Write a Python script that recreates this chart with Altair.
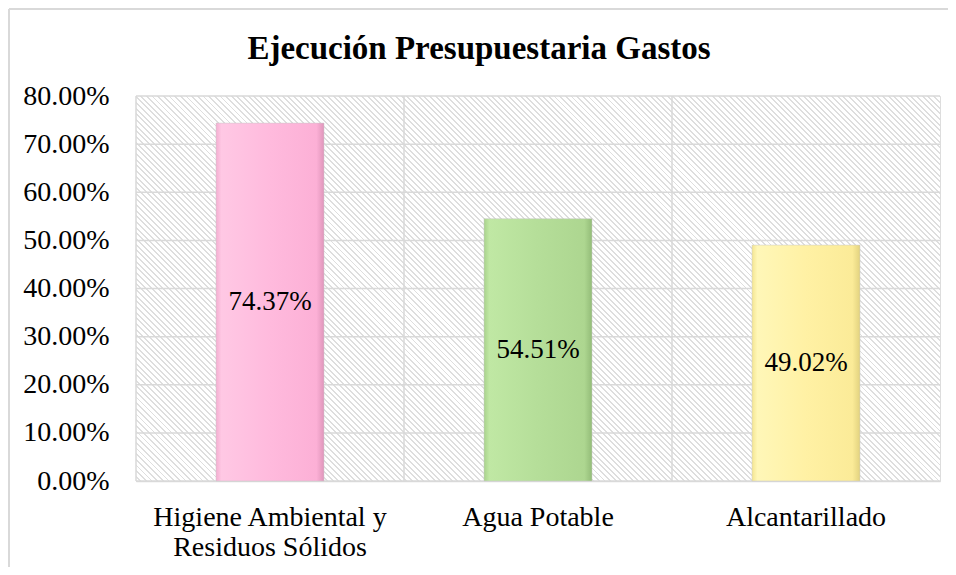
import altair as alt
import pandas as pd

categories = ["Higiene Ambiental y Residuos Sólidos", "Agua Potable", "Alcantarillado"]
values = [0.7437, 0.5451, 0.4902]
labels = ["74.37%", "54.51%", "49.02%"]
y_ticks = [0.0, 0.1, 0.2, 0.3, 0.4, 0.5, 0.6, 0.7, 0.8]
title_text = "Ejecución Presupuestaria Gastos"

df = pd.DataFrame({"cat": categories, "v": values, "lab": labels})
df_ticks = pd.DataFrame({"t": y_ticks})

W, H = 804, 385
FONT = "Liberation Serif"

# diagonal hatch for the plot background
N = 210
s = (W + H) / (W * W + H * H)
stops = []
for i in range(N):
    t0 = i / N
    tm = (i + 0.66) / N
    t1 = (i + 1) / N
    stops += [alt.GradientStop(offset=t0, color="#ffffff"),
              alt.GradientStop(offset=tm, color="#ffffff"),
              alt.GradientStop(offset=tm, color="#dedede"),
              alt.GradientStop(offset=t1, color="#dedede")]
hatch = alt.LinearGradient(gradient="linear", stops=stops,
                           x1=0, y1=1, x2=s * W, y2=1 - s * H)


def bevel(c_edge_l, c_light, c_mid, c_dark, c_edge_r):
    return alt.LinearGradient(gradient="linear", x1=0, y1=0, x2=1, y2=0, stops=[
        alt.GradientStop(offset=0, color=c_edge_l),
        alt.GradientStop(offset=0.05, color=c_light),
        alt.GradientStop(offset=0.5, color=c_mid),
        alt.GradientStop(offset=0.93, color=c_dark),
        alt.GradientStop(offset=1, color=c_edge_r)])


fills = [
    bevel("#f4aed1", "#ffc8e4", "#ffbadd", "#fcb0d6", "#df96bb"),
    bevel("#a9d28c", "#c0e8a4", "#b5de99", "#add690", "#93bc78"),
    bevel("#f4e590", "#fff7b8", "#fff1a4", "#fbeb98", "#e2d27f"),
]

xs = alt.Scale(domain=categories, paddingInner=0, paddingOuter=0)
ys = alt.Scale(domain=[0, 0.8], nice=False)

x_axis = alt.Axis(labelAngle=0, labelFont=FONT, labelFontSize=28, labelColor="#000000",
                  labelPadding=22, labelLineHeight=30, ticks=False, domain=True,
                  domainColor="#d9d9d9", domainWidth=1.5, labelBaseline="top", grid=False,
                  labelLimit=400,
                  labelExpr="datum.label == 'Higiene Ambiental y Residuos Sólidos' ? ['Higiene Ambiental y', 'Residuos Sólidos'] : datum.label")
y_axis = alt.Axis(values=y_ticks, format=".2%", labelFont=FONT, labelFontSize=28,
                  labelColor="#000000", labelPadding=27, ticks=False, domain=False,
                  grid=False)

base = alt.Chart(df)
one = alt.datum.cat == categories[0]

background = base.mark_rect(fill=hatch).encode(
    x=alt.value(0), x2=alt.value(W), y=alt.value(0), y2=alt.value(H)
).transform_filter(one)

# light outer chart border (left and top edges)
border_left = base.mark_rule(color="#d9d9d9", strokeWidth=2, clip=False).encode(
    x=alt.value(-127), y=alt.value(-87), y2=alt.value(H + 90)
).transform_filter(one)
border_top = base.mark_rule(color="#d9d9d9", strokeWidth=2, clip=False).encode(
    x=alt.value(-127), x2=alt.value(W + 12), y=alt.value(-87)
).transform_filter(one)

hgrid = alt.Chart(df_ticks).mark_rule(color="#d9d9d9", strokeWidth=1.5).encode(
    y=alt.Y("t:Q", scale=ys, axis=y_axis, title=None),
    x=alt.value(0), x2=alt.value(W)
)

vgrid = base.mark_rule(color="#d9d9d9", strokeWidth=1.5).encode(
    x=alt.X("cat:N", scale=xs, sort=categories, bandPosition=0, axis=x_axis, title=None),
    y=alt.value(0), y2=alt.value(H)
)

bars = []
for cat, f in zip(categories, fills):
    bars.append(base.mark_bar(size=108, fill=f, stroke="#c8c8c8", strokeWidth=0.5).encode(
        x=alt.X("cat:N", scale=xs, sort=categories, axis=x_axis, title=None),
        y=alt.Y("v:Q", scale=ys, axis=y_axis, title=None),
    ).transform_filter(alt.datum.cat == cat))

text = base.mark_text(font=FONT, fontSize=27, color="#000000", baseline="middle").encode(
    x=alt.X("cat:N", scale=xs, sort=categories, axis=x_axis, title=None),
    y=alt.Y("mid:Q", scale=ys, axis=y_axis, title=None),
    text="lab:N"
).transform_calculate(mid="datum.v / 2")

chart = alt.layer(background, hgrid, vgrid, *bars, text, border_left, border_top).properties(
    width=W, height=H,
    padding={"left": 128, "top": 88, "right": 8, "bottom": 86},
    autosize=alt.AutoSizeParams(type="none"),
    title=alt.TitleParams(text=title_text, font=FONT, fontSize=33, fontWeight="bold",
                          color="#000000", anchor="middle", dx=-59, offset=-58)
).configure_view(stroke="#d9d9d9", strokeWidth=1.5).configure(background="#ffffff")

chart.save("out.html", embed_options={"renderer": "svg", "actions": False})
